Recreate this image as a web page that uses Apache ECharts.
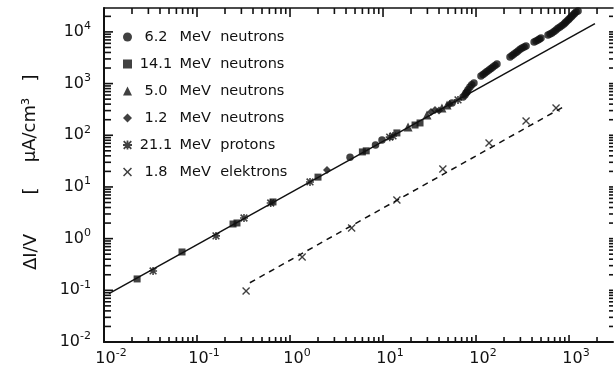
<!DOCTYPE html>
<html><head><meta charset="utf-8">
<script src="https://cdn.jsdelivr.net/npm/echarts@6/dist/echarts.min.js"></script>
<style>html,body{margin:0;padding:0;background:#fff}#c{width:614px;height:367px}</style>
</head><body><div id="c"></div>
<script>
// ---- axis ranges & ticks ----
const X_MIN = 0.01, X_MAX = 2970, Y_MIN = 0.01, Y_MAX = 29000;
const decades = [-2, -1, 0, 1, 2, 3, 4];
const multipliers = [1, 2, 3, 4, 5, 6, 7, 8, 9];

// ---- series names ----
const names = ['6.2 MeV neutrons', '14.1 MeV neutrons', '5.0 MeV neutrons',
               '1.2 MeV neutrons', '21.1 MeV protons', '1.8 MeV elektrons'];

// ---- data (fluence, ΔI/V) ----
const n62 = [[4.42, 37.6], [8.3, 65], [9.75, 81], [55.2, 422], [72.5, 552], [76, 600], [80, 689],
  [78, 659], [82, 760], [86, 861], [90, 950], [95, 1030],
  [113, 1407], [119, 1500], [125, 1608], [131, 1720], [138, 1837], [145, 1960], [152, 2099], [160, 2250], [168, 2399],
  [232, 3279], [244, 3500], [256, 3748], [270, 4000], [283, 4283], [298, 4600], [313, 4894], [329, 5100], [345, 5353],
  [421, 6400], [442, 6700], [464, 6998], [482, 7300], [500, 7652],
  [594, 8746], [625, 9100], [656, 9550], [690, 10200], [724, 10920], [760, 11700], [800, 12480], [840, 13300], [883, 14260],
  [915, 15200], [951, 16300], [990, 17400], [1025, 18640], [1065, 19900], [1104, 21300], [1145, 22800], [1189, 24400], [1250, 25500]];
const n141 = [[0.0227, 0.166], [0.069, 0.552], [0.244, 1.92], [0.269, 2.01], [0.656, 5.13],
  [2.0, 15.5], [6.0, 47.6], [6.6, 50], [14.1, 111], [22.1, 158], [25, 173]];
const n50 = [[18.6, 145], [29.7, 247], [43, 338], [48.8, 386]];
const n12 = [[2.5, 21.3], [32.8, 283], [36.2, 309], [40, 300], [52, 400]];
const p211 = [[0.0337, 0.237], [0.16, 1.13], [0.32, 2.51], [0.62, 4.9], [1.64, 12.5],
  [12.8, 97], [11.8, 92], [64, 483]];
const e18 = [[0.337, 0.097], [1.35, 0.44], [4.6, 1.6], [14.1, 5.6], [44, 22.3],
  [138, 71], [345, 189], [725, 338]];
// fitted lines drawn in the original
const solidLine = [[0.0113, 0.086], [1900, 14440]];
const dashedLine = [[0.37, 0.14], [906, 369]];

const FONT = 'DejaVu Sans';
const INK = '#111';
const XPATH = 'path://M0,1.2L1.2,0L5,3.8L8.8,0L10,1.2L6.2,5L10,8.8L8.8,10L5,6.2L1.2,10L0,8.8L3.8,5Z';
const STAR = 'path://M4,0L6,0L6,4L10,4L10,6L6,6L6,10L4,10L4,6L0,6L0,4L4,4Z' +
             'M1.5,0.1L5,3.6L8.5,0.1L9.9,1.5L6.4,5L9.9,8.5L8.5,9.9L5,6.4L1.5,9.9L0.1,8.5L3.6,5L0.1,1.5Z';

function powLabel(v) {
  const e = Math.round(Math.log10(v));
  return '{b|10}{s|' + e + '}';
}
const rich = {
  b: { fontFamily: FONT, fontSize: 16, color: INK, lineHeight: 22 },
  s: { fontFamily: FONT, fontSize: 11, color: INK, lineHeight: 8, verticalAlign: 'top' }
};

const titleTexts = [
  { type: 'text', x: 31, y: 252, rotation: Math.PI / 2,
    style: { text: 'ΔI/V', font: '18px "DejaVu Sans"', fill: INK, align: 'center', verticalAlign: 'middle' } },
  { type: 'text', x: 31, y: 191, rotation: Math.PI / 2,
    style: { text: '[', font: '18px "DejaVu Sans"', fill: INK, align: 'center', verticalAlign: 'middle' } },
  { type: 'text', x: 30, y: 130, rotation: Math.PI / 2,
    style: { text: 'μA/cm³', font: '18px "DejaVu Sans"', fill: INK, align: 'center', verticalAlign: 'middle' } },
  { type: 'text', x: 31, y: 78, rotation: Math.PI / 2,
    style: { text: ']', font: '18px "DejaVu Sans"', fill: INK, align: 'center', verticalAlign: 'middle' } }
];

const chart = echarts.init(document.getElementById('c'));
chart.setOption({
  backgroundColor: '#fff',
  animation: false,
  grid: { left: 104, right: 1, top: 8, bottom: 25 },
  legend: {
    orient: 'vertical', left: 118, top: 24.5, itemWidth: 9, itemHeight: 9, itemGap: 12,
    selectedMode: false, data: names,
    formatter: name => {
      const i = name.indexOf(' ');
      return '{n|' + name.slice(0, i) + '} {m|' + name.slice(i + 1).replace(' ', '  ') + '}';
    },
    textStyle: {
      fontFamily: FONT, fontSize: 14.5, color: INK, lineHeight: 15,
      rich: {
        n: { width: 38, align: 'right', fontFamily: FONT, fontSize: 14.5, color: INK },
        m: { fontFamily: FONT, fontSize: 14.5, color: INK }
      }
    }
  },
  xAxis: [{
    type: 'log', min: X_MIN, max: X_MAX, logBase: 10,
    axisLine: { show: true, lineStyle: { color: INK, width: 2 } },
    axisTick: { show: false }, splitLine: { show: false },
    axisLabel: { formatter: powLabel, rich: rich, margin: 6, padding: [0, 0, 0, 14],
                 showMinLabel: true, showMaxLabel: false }
  }, {
    type: 'log', min: X_MIN, max: X_MAX, position: 'top',
    axisLine: { show: true, lineStyle: { color: INK, width: 1.5 } },
    axisTick: { show: false }, axisLabel: { show: false }, splitLine: { show: false }
  }],
  yAxis: [{
    type: 'log', min: Y_MIN, max: Y_MAX, logBase: 10,
    axisLine: { show: true, lineStyle: { color: INK, width: 2 } },
    axisTick: { show: false }, splitLine: { show: false },
    axisLabel: { formatter: powLabel, rich: rich, margin: 13, showMaxLabel: false }
  }],
  graphic: titleTexts,
  series: [
    { type: 'line', data: solidLine, showSymbol: false, silent: true,
      lineStyle: { color: INK, width: 1.5 } },
    { type: 'line', data: dashedLine, showSymbol: false, silent: true,
      lineStyle: { color: INK, width: 1.5, type: [6, 5] } },
    { type: 'scatter', name: names[0], data: n62, symbol: 'circle', symbolSize: 7.5, itemStyle: { color: INK } },
    { type: 'scatter', name: names[1], data: n141, symbol: 'rect', symbolSize: 7, itemStyle: { color: INK } },
    { type: 'scatter', name: names[2], data: n50, symbol: 'triangle', symbolSize: 9, itemStyle: { color: INK } },
    { type: 'scatter', name: names[3], data: n12, symbol: 'diamond', symbolSize: 8, itemStyle: { color: INK } },
    { type: 'scatter', name: names[4], data: p211, symbol: STAR, symbolSize: 8, itemStyle: { color: INK } },
    { type: 'scatter', name: names[5], data: e18, symbol: XPATH, symbolSize: 8, itemStyle: { color: INK } }
  ]
});

// ---- log-paper tick marks, positioned through the chart's own axis scales ----
(function addTicks() {
  const finder = { xAxisIndex: 0, yAxisIndex: 0 };
  const lo = chart.convertToPixel(finder, [X_MIN, Y_MIN]);
  const hi = chart.convertToPixel(finder, [X_MAX, Y_MAX]);
  if (!lo || !hi || ![lo[0], lo[1], hi[0], hi[1]].every(isFinite)) return;
  const left = lo[0], bottom = lo[1], right = hi[0], top = hi[1];
  const els = [];
  const seg = (x1, y1, x2, y2) => els.push({ type: 'line', silent: true, z: 100,
    shape: { x1: x1, y1: y1, x2: x2, y2: y2 }, style: { stroke: INK, lineWidth: 1.6 } });
  decades.forEach(d => multipliers.forEach(m => {
    const v = +(m * Math.pow(10, d)).toPrecision(6);
    const major = m === 1;
    if (v > X_MIN && v <= X_MAX) {
      const p = chart.convertToPixel(finder, [v, 1]);
      if (p && isFinite(p[0])) {
        seg(p[0], bottom, p[0], bottom - (major ? 7 : 5));
        seg(p[0], top, p[0], top + (major ? 9 : 6));
      }
    }
    if (v > Y_MIN && v <= Y_MAX) {
      const p = chart.convertToPixel(finder, [1, v]);
      if (p && isFinite(p[1])) {
        seg(left, p[1], left + (major ? 9 : 7), p[1]);
        seg(right, p[1], right - 4, p[1]);
      }
    }
  }));
  chart.setOption({ graphic: titleTexts.concat(els) });
})();
</script></body></html>
